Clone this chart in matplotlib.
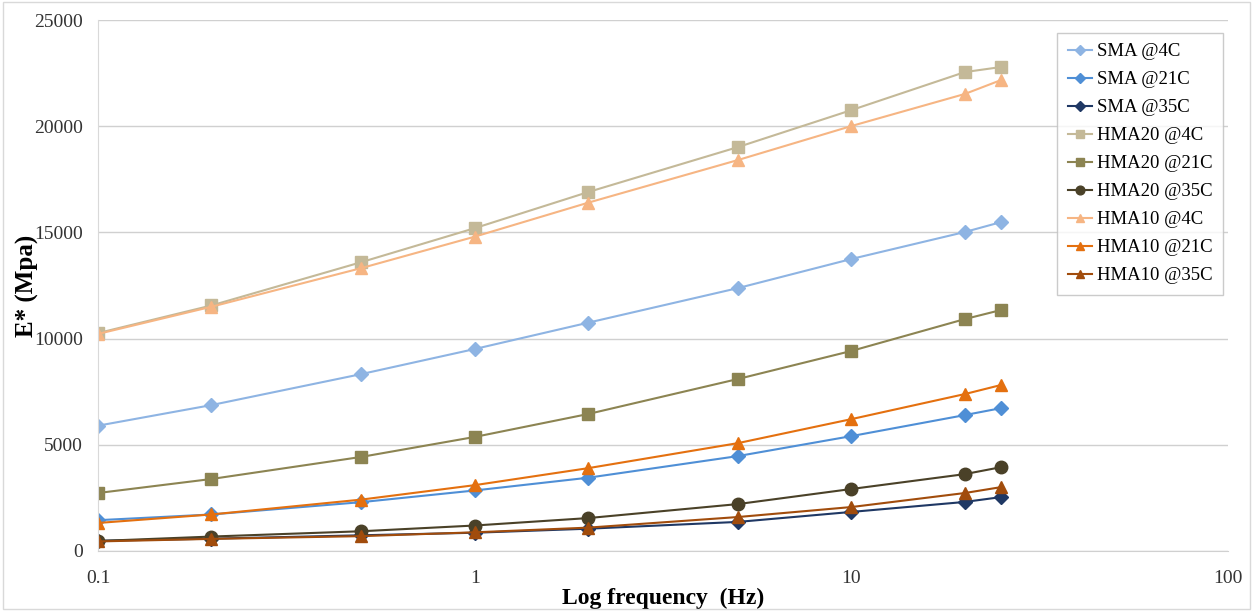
import matplotlib
matplotlib.use("Agg")
import matplotlib.pyplot as plt
from matplotlib.patches import Rectangle
from matplotlib.ticker import FixedLocator, FixedFormatter, NullLocator

# data
freq = [0.1, 0.2, 0.5, 1, 2, 5, 10, 20, 25]

sma_4c = [5900, 6870, 8330, 9510, 10750, 12380, 13750, 15020, 15490]
sma_21c = [1450, 1720, 2300, 2850, 3450, 4470, 5410, 6400, 6730]
sma_35c = [480, 580, 740, 860, 1050, 1370, 1840, 2310, 2540]
hma20_4c = [10260, 11560, 13600, 15200, 16900, 19020, 20760, 22550, 22790]
hma20_21c = [2730, 3390, 4430, 5370, 6450, 8100, 9420, 10920, 11350]
hma20_35c = [470, 680, 930, 1200, 1550, 2210, 2920, 3620, 3950]
hma10_4c = [10220, 11500, 13320, 14800, 16400, 18410, 20010, 21520, 22180]
hma10_21c = [1320, 1720, 2420, 3100, 3900, 5080, 6210, 7390, 7820]
hma10_35c = [450, 570, 700, 880, 1100, 1600, 2070, 2730, 3010]

series = [
    ("SMA @4C", sma_4c, "#8EB4E3", "D", 7),
    ("SMA @21C", sma_21c, "#4F8FD6", "D", 7),
    ("SMA @35C", sma_35c, "#1F3864", "D", 7),
    ("HMA20 @4C", hma20_4c, "#C4B998", "s", 9),
    ("HMA20 @21C", hma20_21c, "#8C8452", "s", 9),
    ("HMA20 @35C", hma20_35c, "#4A4128", "o", 9),
    ("HMA10 @4C", hma10_4c, "#F6B583", "^", 9),
    ("HMA10 @21C", hma10_21c, "#E4700F", "^", 9),
    ("HMA10 @35C", hma10_35c, "#A14C0C", "^", 9),
]

plt.rcParams["font.family"] = ["Liberation Serif", "DejaVu Serif"]

fig = plt.figure(figsize=(12.53, 6.11), dpi=100)
ax = fig.add_axes([0.0782, 0.0982, 0.902, 0.869])

for label, vals, color, marker, ms in series:
    ax.plot(freq, vals, color=color, marker=marker, markersize=ms,
            linewidth=1.5, label=label)

ax.set_xscale("log")
ax.set_xlim(0.1, 100)
ax.set_ylim(0, 25000)
ax.xaxis.set_major_locator(FixedLocator([0.1, 1, 10, 100]))
ax.xaxis.set_major_formatter(FixedFormatter(["0.1", "1", "10", "100"]))
ax.xaxis.set_minor_locator(NullLocator())
ax.set_yticks([0, 5000, 10000, 15000, 20000, 25000])
ax.tick_params(axis="both", length=0, labelsize=14, colors="#333333")
ax.tick_params(axis="x", pad=14)
ax.tick_params(axis="y", pad=11)

ax.grid(axis="y", color="#d0d0d0", linewidth=1)
ax.set_axisbelow(True)
for side in ["top", "right"]:
    ax.spines[side].set_visible(False)
ax.spines["left"].set_color("#d9d9d9")
ax.spines["bottom"].set_color("#d0d0d0")

ax.set_xlabel("Log frequency  (Hz)", fontsize=17, fontweight="bold", labelpad=0)
ax.set_ylabel("E* (Mpa)", fontsize=18, fontweight="bold", labelpad=-4)

leg = ax.legend(loc="upper right", bbox_to_anchor=(0.995, 0.976), fontsize=13.5,
                frameon=True, fancybox=False, edgecolor="#bfbfbf",
                handlelength=1.3, handletextpad=0.25, labelspacing=0.58,
                borderpad=0.55, markerscale=0.7, borderaxespad=0)
leg.get_frame().set_linewidth(1)

# light border around the whole chart
fig.patches.append(Rectangle((0.002, 0.003), 0.996, 0.994, transform=fig.transFigure,
                             fill=False, edgecolor="#d9d9d9", linewidth=1))

fig.savefig("out.png", dpi=100)
